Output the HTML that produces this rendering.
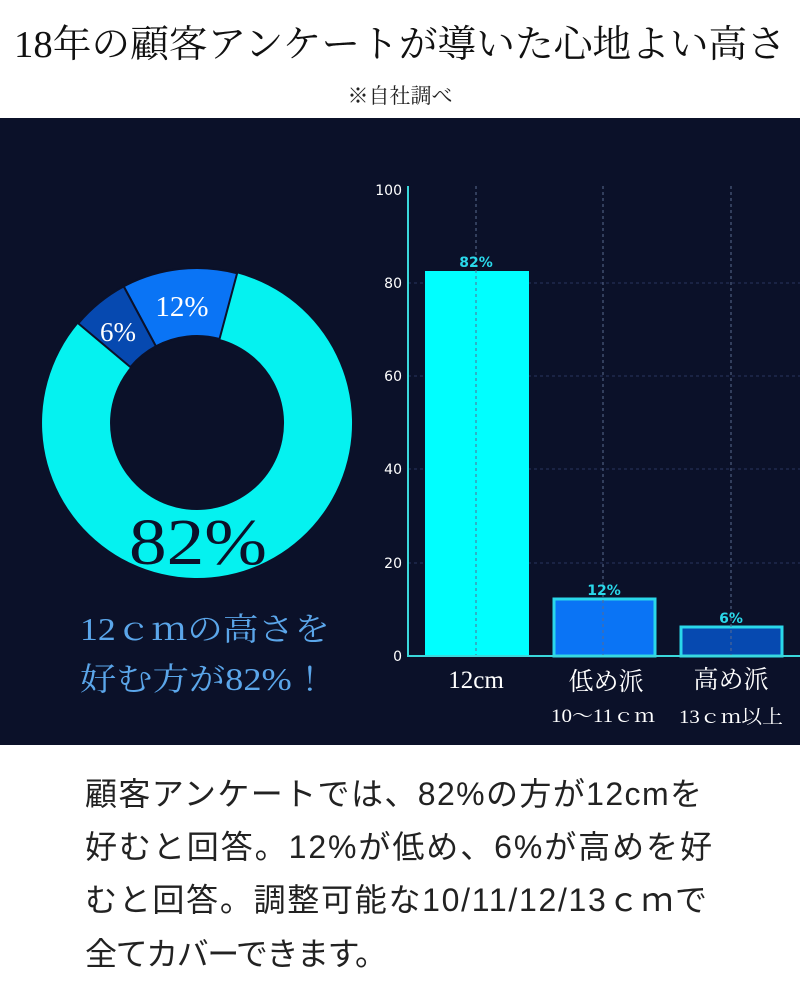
<!DOCTYPE html>
<html><head><meta charset="utf-8"><style>
html,body{margin:0;padding:0;background:#fff;width:800px;height:1000px;overflow:hidden}
</style></head><body>
<svg width="800" height="1000" viewBox="0 0 800 1000" xmlns="http://www.w3.org/2000/svg">
<rect width="800" height="1000" fill="#fff"/>
<text x="400" y="57" text-anchor="middle" font-family="'Liberation Serif','Noto Serif CJK JP',serif" font-size="38" fill="#111" textLength="772" lengthAdjust="spacingAndGlyphs">18年の顧客アンケートが導いた心地よい高さ</text>
<text x="400" y="103" text-anchor="middle" font-family="'Liberation Serif','Noto Serif CJK JP',serif" font-size="21" fill="#222">※自社調べ</text>
<rect x="0" y="118" width="800" height="627" fill="#0b1129"/>
<path d="M237.1,273.3 A155,155 0 1 1 78.3,323.4 L130.4,367.1 A87,87 0 1 0 219.5,339.0 Z" fill="#05f2f0"/>
<path d="M123.7,286.4 A155,155 0 0 1 237.1,273.3 L219.5,339.0 A87,87 0 0 0 155.9,346.3 Z" fill="#0a74f5" stroke="#0b1129" stroke-width="2"/>
<path d="M78.3,323.4 A155,155 0 0 1 123.7,286.4 L155.9,346.3 A87,87 0 0 0 130.4,367.1 Z" fill="#0649b0" stroke="#0b1129" stroke-width="2"/>
<g font-family="'Liberation Serif','Noto Serif CJK JP',serif">
<text x="182" y="316" text-anchor="middle" font-size="29" fill="#fff">12%</text>
<text x="118" y="341" text-anchor="middle" font-size="27" fill="#fff">6%</text>
<text x="198" y="564" text-anchor="middle" font-size="66" fill="#0b1129" textLength="138" lengthAdjust="spacingAndGlyphs">82%</text>
<text x="80" y="640" font-size="32" fill="#5ba6ea" textLength="250" lengthAdjust="spacingAndGlyphs">12ｃｍの高さを</text>
<text x="80" y="690" font-size="32" fill="#5ba6ea" textLength="248" lengthAdjust="spacingAndGlyphs">好む方が82%！</text>
</g>
<g stroke="#2a3560" stroke-width="1" stroke-dasharray="3,3">
<line x1="408" y1="283" x2="800" y2="283"/><line x1="408" y1="376" x2="800" y2="376"/>
<line x1="408" y1="469" x2="800" y2="469"/><line x1="408" y1="563" x2="800" y2="563"/>
</g>
<rect x="425" y="271" width="104" height="385" fill="#00ffff"/>
<rect x="554" y="599" width="101" height="57" fill="#0a74f5" stroke="#2ad8ea" stroke-width="3"/>
<rect x="681" y="627" width="101" height="29" fill="#0649b0" stroke="#2ad8ea" stroke-width="3"/>
<g stroke="#5a6a90" stroke-width="1" stroke-dasharray="3,3">
<line x1="476" y1="186" x2="476" y2="656"/><line x1="603" y1="186" x2="603" y2="656"/><line x1="731" y1="186" x2="731" y2="656"/>
</g>
<line x1="408" y1="186" x2="408" y2="657" stroke="#3ad8dc" stroke-width="2"/>
<line x1="407" y1="656" x2="800" y2="656" stroke="#3ad8dc" stroke-width="2"/>
<g font-family="'DejaVu Sans',sans-serif" font-size="14" fill="#fff" text-anchor="end">
<text x="402" y="195">100</text><text x="402" y="288">80</text><text x="402" y="381">60</text>
<text x="402" y="474">40</text><text x="402" y="568">20</text><text x="402" y="661">0</text>
</g>
<g font-family="'DejaVu Sans',sans-serif" font-size="14" font-weight="bold" fill="#2ad8ea" text-anchor="middle">
<text x="476" y="267">82%</text><text x="604" y="595">12%</text><text x="731" y="623">6%</text>
</g>
<g font-family="'Liberation Serif','Noto Serif CJK JP',serif" fill="#fff" text-anchor="middle">
<text x="476" y="688" font-size="25">12cm</text>
<text x="606" y="690" font-size="25">低め派</text>
<text x="603" y="722" font-size="19" textLength="104" lengthAdjust="spacingAndGlyphs">10〜11ｃｍ</text>
<text x="731" y="688" font-size="25">高め派</text>
<text x="731" y="723" font-size="19" textLength="104" lengthAdjust="spacingAndGlyphs">13ｃｍ以上</text>
</g>
<g font-family="'Liberation Sans','Noto Sans CJK JP',sans-serif" font-size="32" fill="#222" lengthAdjust="spacingAndGlyphs">
<text x="85" y="805" textLength="617">顧客アンケートでは、82%の方が12cmを</text>
<text x="85" y="858" textLength="627">好むと回答。12%が低め、6%が高めを好</text>
<text x="85" y="911" textLength="622">むと回答。調整可能な10/11/12/13ｃｍで</text>
<text x="85" y="965" textLength="302">全てカバーできます。</text>
</g>
</svg>
</body></html>
